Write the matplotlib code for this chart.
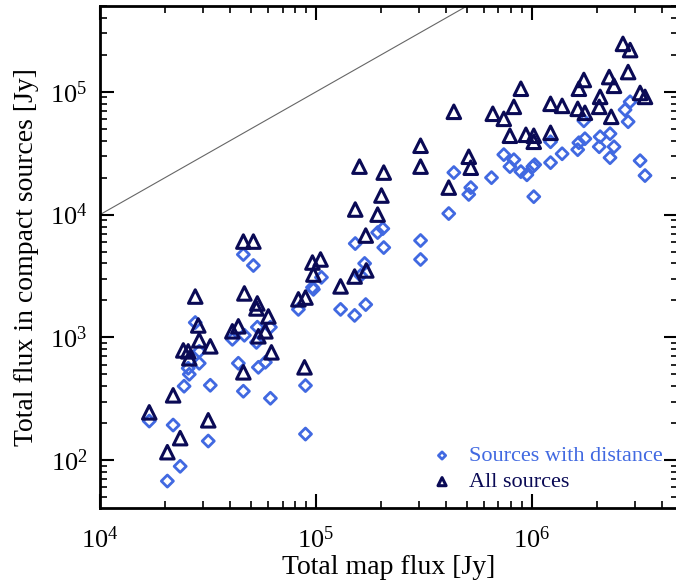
import matplotlib
matplotlib.use("Agg")
import matplotlib.pyplot as plt
import numpy as np
from matplotlib.ticker import LogLocator, LogFormatterMathtext, NullFormatter

plt.rcParams['font.family'] = ['Liberation Serif', 'DejaVu Serif']
plt.rcParams['mathtext.fontset'] = 'stix'

# All sources (triangles): total map flux, compact-source flux [Jy]
all_x = [1.69e4, 2.18e4, 2.35e4, 2.05e4, 3.17e4, 2.76e4, 2.85e4, 2.88e4, 2.43e4, 2.56e4,
         2.59e4, 3.24e4, 4.61e4, 5.13e4, 4.66e4, 4.10e4, 4.37e4, 5.35e4, 5.30e4, 6.02e4,
         5.83e4, 5.41e4, 6.22e4, 4.61e4, 8.29e4, 8.94e4, 8.85e4, 9.63e4, 1.05e5, 9.73e4,
         1.30e5, 1.51e5, 1.71e5, 1.70e5, 1.52e5, 1.93e5, 2.01e5, 2.06e5, 1.59e5, 3.05e5,
         3.05e5, 4.12e5, 4.35e5, 5.10e5, 5.21e5, 6.59e5, 7.41e5, 8.25e5, 8.89e5, 7.91e5,
         9.38e5, 1.02e6, 1.02e6, 1.22e6, 1.38e6, 1.22e6, 1.74e6, 1.65e6, 1.63e6, 1.76e6,
         2.07e6, 2.05e6, 2.33e6, 2.28e6, 2.40e6, 2.64e6, 2.85e6, 2.79e6, 3.17e6, 3.34e6]
all_y = [245, 337, 151, 116, 211, 2150, 1250, 946, 783, 769,
         675, 845, 6030, 6030, 2280, 1120, 1230, 1890, 1720, 1480,
         1120, 1020, 755, 519, 2040, 2110, 570, 4070, 4310, 3250,
         2600, 3130, 3510, 6750, 1.10e4, 1.0e4, 1.43e4, 2.20e4, 2.46e4, 2.46e4,
         3.64e4, 1.66e4, 6.88e4, 2.96e4, 2.41e4, 6.63e4, 6.03e4, 7.55e4, 1.06e5, 4.39e4,
         4.47e4, 4.39e4, 3.92e4, 7.99e4, 7.69e4, 4.64e4, 1.25e5, 1.06e5, 7.27e4, 6.75e4,
         9.1e4, 7.55e4, 6.26e4, 1.32e5, 1.12e5, 2.46e5, 2.19e5, 1.45e5, 9.8e4, 9.1e4]

# Sources with distance (diamonds)
dist_x = [1.69e4, 2.18e4, 2.35e4, 2.05e4, 3.17e4, 2.76e4, 2.88e4, 2.88e4, 2.56e4, 2.59e4,
          2.45e4, 3.24e4, 4.61e4, 5.13e4, 4.10e4, 4.66e4, 5.35e4, 5.30e4, 6.15e4, 4.37e4,
          5.41e4, 5.83e4, 4.61e4, 6.15e4, 8.29e4, 8.94e4, 8.94e4, 9.63e4, 9.73e4, 1.06e5,
          1.30e5, 1.51e5, 1.70e5, 1.61e5, 1.68e5, 1.52e5, 1.93e5, 2.04e5, 2.06e5, 3.05e5,
          3.05e5, 4.12e5, 4.35e5, 5.21e5, 5.10e5, 6.50e5, 7.41e5, 8.25e5, 7.91e5, 8.89e5,
          9.48e5, 1.01e6, 1.03e6, 1.02e6, 1.22e6, 1.38e6, 1.22e6, 1.74e6, 1.76e6, 1.65e6,
          1.63e6, 2.07e6, 2.05e6, 2.30e6, 2.40e6, 2.30e6, 2.85e6, 2.70e6, 2.79e6, 3.17e6,
          3.34e6]
dist_y = [208, 193, 89, 67.5, 143, 1320, 769, 615, 560, 500,
          400, 407, 4730, 3850, 964, 1040, 1210, 910, 1210, 615,
          570, 627, 364, 319, 1690, 405, 163, 2550, 2460, 3080,
          1690, 1510, 1850, 3190, 4000, 5810, 7140, 7690, 5390, 6150,
          4310, 1.02e4, 2.20e4, 1.66e4, 1.46e4, 2.0e4, 3.08e4, 2.80e4, 2.46e4, 2.24e4,
          2.11e4, 2.46e4, 2.55e4, 1.40e4, 3.92e4, 3.13e4, 2.65e4, 5.81e4, 4.15e4, 3.85e4,
          3.38e4, 4.31e4, 3.57e4, 4.56e4, 3.57e4, 2.91e4, 8.3e4, 7.14e4, 5.71e4, 2.75e4,
          2.08e4]

one_to_one = [1e3, 1e7]

fig = plt.figure(figsize=(6.76, 5.83), dpi=100)
ax = fig.add_axes([0.148, 0.1286, 0.855, 0.861])

blue = '#4169E1'
navy = '#0A0A55'

ax.plot(one_to_one, one_to_one, color='#666666', lw=0.8, zorder=1)
ax.scatter(dist_x, dist_y, marker='D', s=38, facecolors='none', edgecolors=blue,
           linewidths=2.0, label='Sources with distance', zorder=3)
ax.scatter(all_x, all_y, marker='^', s=95, facecolors='none', edgecolors=navy,
           linewidths=2.2, label='All sources', zorder=4)

ax.set_xscale('log')
ax.set_yscale('log')
ax.set_xlim(1e4, 4.75e6)
ax.set_ylim(40.7, 5.0e5)

for axis in (ax.xaxis, ax.yaxis):
    axis.set_major_locator(LogLocator(base=10, numticks=15))
    axis.set_minor_locator(LogLocator(base=10, subs=np.arange(2, 10), numticks=15))
    axis.set_major_formatter(LogFormatterMathtext())
    axis.set_minor_formatter(NullFormatter())

ax.tick_params(which='both', direction='in', top=True, right=True, labelsize=19,
               colors='black')
ax.tick_params(which='major', length=10, width=1.5, pad=9)
ax.tick_params(which='minor', length=5, width=1.2)
ax.tick_params(axis='x', which='major', pad=13)
for s in ax.spines.values():
    s.set_linewidth(2.0)

ax.set_xlabel('Total map flux [Jy]', fontsize=20, labelpad=2)
ax.set_ylabel('Total flux in compact sources [Jy]', fontsize=20, labelpad=8)

leg = ax.legend(loc='lower right', frameon=False, fontsize=16, handletextpad=0.2,
                markerscale=0.6, borderaxespad=0.3, labelspacing=0.25,
                bbox_to_anchor=(1.0, 0.0))
for text, c in zip(leg.get_texts(), [blue, navy]):
    text.set_color(c)

fig.savefig('out.png', dpi=100)
